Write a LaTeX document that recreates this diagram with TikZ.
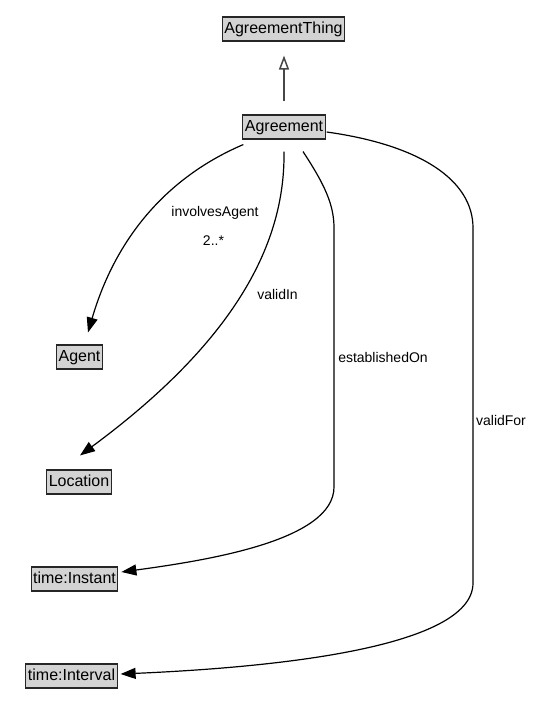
\documentclass[tikz,border=0pt]{standalone}
\usepackage{fontspec}
\setmainfont{Liberation Sans}
\usetikzlibrary{arrows.meta,calc}
\definecolor{boxgray}{RGB}{211,211,211}
\tikzset{
  cls/.style={draw=black!85, line width=1.1pt, fill=boxgray, minimum height=24pt,
    inner xsep=2pt, inner ysep=0pt, font=\fontsize{16}{19}\selectfont, text height=11.5pt, text depth=3.4pt},
  rel/.style={line width=1.2pt, -{Triangle[length=15pt,width=11pt]}},
  isa/.style={line width=1.5pt, draw=black!72, -{Triangle[open,length=14pt,width=10pt,fill=white]}},
  lbl/.style={font=\fontsize{14}{16}\selectfont, inner sep=0pt}
}
\begin{document}
\begin{tikzpicture}[x=1pt,y=-1pt]
\useasboundingbox (0,0) rectangle (540,728);
\node[cls] (thing) at (283.5,29) {AgreementThing};
\node[cls] (ag) at (284,127) {Agreement};
\node[cls] (agent) at (79.5,357) {Agent};
\node[cls] (loc) at (79,482) {Location};
\node[cls] (inst) at (74.5,579) {time:Instant};
\node[cls] (intv) at (71.5,676) {time:Interval};

\draw[isa] ($(ag.north)+(0,-13)$) -- ($(thing.south)+(0.5,14)$);

\draw[rel] ($(ag.south west)+(1,5)$) .. controls (165,178) and (115,240) .. ($(agent.north)+(8.5,-12)$);
\draw[rel] ($(ag.south)+(0,12)$) .. controls (285,230) and (250,330) .. ($(loc.north)+(1,-14)$);
\draw[rel] ($(ag.south)+(19,12)$) .. controls (325,185) and (334,205) .. (334,228) -- (334,487) .. controls (334,540) and (210,560) .. ($(inst.east)+(3,-7)$);
\draw[rel] ($(ag.east)+(1,5)$) .. controls (420,145) and (473,180) .. (473,228) -- (473,583) .. controls (473,650) and (260,668) .. ($(intv.east)+(3,-2)$);

\node[lbl] (l1) at (215,213) {involvesAgent};
\node[lbl] (l2) at (213.5,241) {2..*};
\node[lbl] (l3) at (277.5,294) {validIn};
\node[lbl, fill=white, fill opacity=0.6, text opacity=1, inner sep=1pt] (l4) at (383,357) {establishedOn};
\node[lbl, fill=white, fill opacity=0.6, text opacity=1, inner sep=1pt] (l5) at (501,420) {validFor};
\end{tikzpicture}
\end{document}
